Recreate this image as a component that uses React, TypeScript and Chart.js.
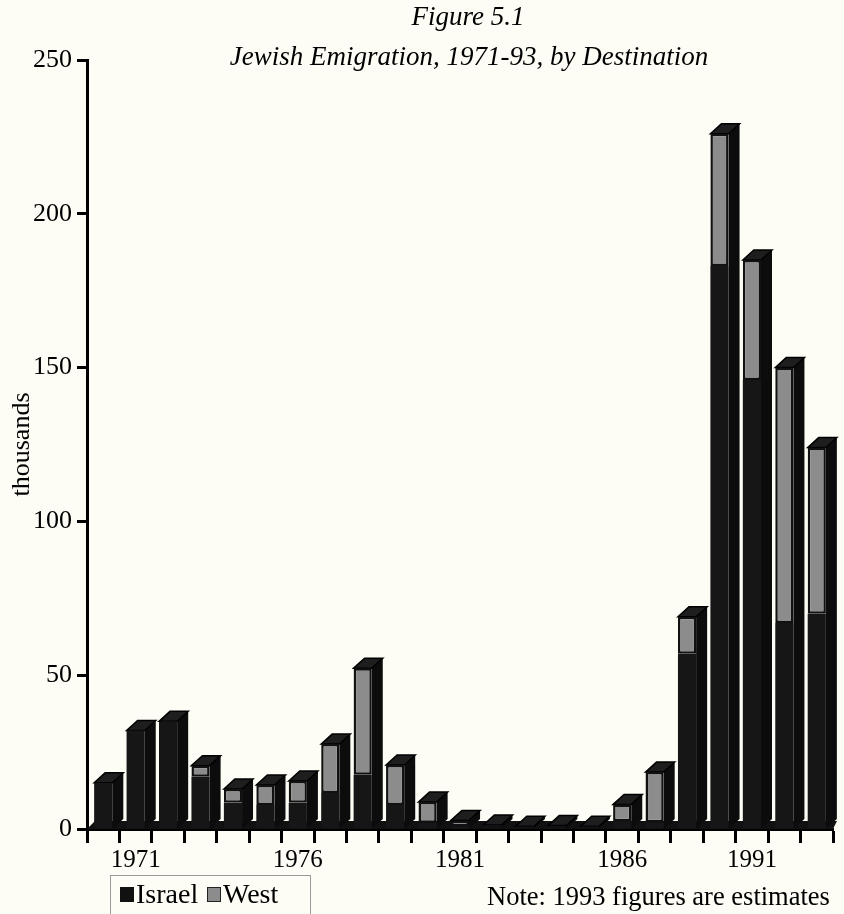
import React, { useEffect, useRef } from "react";
import { Chart, registerables } from "chart.js";

Chart.register(...registerables);

// Years shown (1971-93)
const years = [
  "1971", "1972", "1973", "1974", "1975", "1976", "1977", "1978", "1979", "1980",
  "1981", "1982", "1983", "1984", "1985", "1986", "1987", "1988", "1989", "1990",
  "1991", "1992", "1993",
];
// Tick labels as printed under the axis in the figure
const tickLabels = [
  "", "1971", "", "", "", "", "1976", "", "", "", "",
  "1981", "", "", "", "", "1986", "", "", "", "1991", "", "",
];
// thousands
const israel = [15, 32, 35, 17, 8.5, 7.8, 8.5, 11.7, 17.6, 7.8, 2, 0.8, 0.4, 0.3, 0.35, 0.2, 2.5, 2.2, 57, 183, 146, 67, 70];
const west = [0, 0, 0, 3.6, 4.5, 6.5, 7.1, 15.9, 34.7, 13, 6.8, 2, 0.9, 0.6, 0.75, 0.7, 5.5, 16.3, 12, 43, 39, 83, 54];
const yTicks = [0, 50, 100, 150, 200, 250];

const titleLines = ["Figure 5.1", "Jewish Emigration, 1971-93, by Destination"];
const noteText = "Note: 1993 figures are estimates";

const SERIF = "'Liberation Serif', 'Times New Roman', serif";
const BG = "#fdfdf6";
const DX = 11;
const DY = 10;

const bgPlugin = {
  id: "bg",
  beforeDraw(chart: any) {
    const { ctx, width, height } = chart;
    ctx.save();
    ctx.fillStyle = BG;
    ctx.fillRect(0, 0, width, height);
    ctx.restore();
  },
};

const depthPlugin = {
  id: "depth3d",
  beforeDatasetsDraw(chart: any) {
    const { ctx, chartArea } = chart;
    const m0 = chart.getDatasetMeta(0);
    const m1 = chart.getDatasetMeta(1);
    const yb = chart.scales.y.getPixelForValue(0);
    ctx.save();
    // floor
    ctx.fillStyle = "#111";
    ctx.beginPath();
    ctx.moveTo(chartArea.left, yb);
    ctx.lineTo(chartArea.left + DX - 3, yb - DY + 2);
    ctx.lineTo(chartArea.right + 4, yb - DY + 2);
    ctx.lineTo(chartArea.right, yb);
    ctx.closePath();
    ctx.fill();
    for (let i = 0; i < m0.data.length; i++) {
      const e0 = m0.data[i];
      const e1 = m1.data[i];
      const w = e0.width;
      const left = e0.x - w / 2;
      const right = e0.x + w / 2;
      const top = Math.min(e0.y, e1.y);
      // side face
      ctx.fillStyle = "#0c0c0c";
      ctx.beginPath();
      ctx.moveTo(right, top);
      ctx.lineTo(right + DX, top - DY);
      ctx.lineTo(right + DX, yb - DY);
      ctx.lineTo(right, yb);
      ctx.closePath();
      ctx.fill();
      // top face
      ctx.fillStyle = "#1e1e1e";
      ctx.strokeStyle = "#000";
      ctx.lineWidth = 1.5;
      ctx.beginPath();
      ctx.moveTo(left, top);
      ctx.lineTo(left + DX, top - DY);
      ctx.lineTo(right + DX, top - DY);
      ctx.lineTo(right, top);
      ctx.closePath();
      ctx.fill();
      ctx.stroke();
    }
    ctx.restore();
  },
};

const textPlugin = {
  id: "texts",
  afterDraw(chart: any) {
    const { ctx } = chart;
    ctx.save();
    ctx.fillStyle = "#000";
    // Title
    ctx.font = `italic 27px ${SERIF}`;
    ctx.textAlign = "center";
    ctx.textBaseline = "middle";
    ctx.fillText(titleLines[0], 468, 18);
    ctx.fillText(titleLines[1], 469, 58);
    // Legend
    ctx.strokeStyle = "#9a9a9a";
    ctx.lineWidth = 1;
    ctx.strokeRect(110.5, 875.5, 200, 45);
    ctx.font = `28px ${SERIF}`;
    ctx.textAlign = "left";
    ctx.textBaseline = "middle";
    ctx.fillStyle = "#111";
    ctx.fillRect(120, 887, 14, 15);
    ctx.fillStyle = "#000";
    ctx.fillText(chart.data.datasets[0].label, 136, 896);
    ctx.fillStyle = "#8c8c8c";
    ctx.fillRect(207, 887, 14, 15);
    ctx.strokeStyle = "#222";
    ctx.strokeRect(207.5, 887.5, 13, 14);
    ctx.fillStyle = "#000";
    ctx.fillText(chart.data.datasets[1].label, 223, 896);
    // Note
    ctx.font = `26.5px ${SERIF}`;
    ctx.fillText(noteText, 487, 898);
    ctx.restore();
  },
};

export default function App() {
  const ref = useRef<HTMLCanvasElement>(null);
  useEffect(() => {
    if (!ref.current) return;
    const chart = new Chart(ref.current, {
      type: "bar",
      data: {
        labels: years,
        datasets: [
          {
            label: "Israel",
            data: israel,
            backgroundColor: "#161616",
            borderColor: "#000",
            borderWidth: 0,
            barPercentage: 0.56,
            categoryPercentage: 1,
          },
          {
            label: "West",
            data: west,
            backgroundColor: "#8c8c8c",
            borderColor: "#111",
            borderWidth: 2.5,
            borderSkipped: false,
            barPercentage: 0.56,
            categoryPercentage: 1,
          },
        ],
      },
      options: {
        responsive: false,
        animation: false,
        devicePixelRatio: 1,
        layout: { padding: { top: 60, right: 11, bottom: 0, left: 0 } },
        plugins: {
          legend: { display: false },
          title: { display: false },
          tooltip: { enabled: false },
        },
        scales: {
          x: {
            stacked: true,
            offset: true,
            grid: {
              display: true,
              offset: true,
              drawOnChartArea: false,
              drawTicks: true,
              tickLength: 14,
              tickWidth: 3,
              tickColor: "#000",
            },
            border: { display: true, color: "#000", width: 3 },
            ticks: {
              autoSkip: false,
              maxRotation: 0,
              minRotation: 0,
              padding: 2,
              color: "#000",
              font: { family: SERIF, size: 25 },
              callback: (_v: any, i: number) => tickLabels[i],
            },
            afterFit: (s: any) => {
              s.height = 85;
            },
          },
          y: {
            stacked: true,
            min: 0,
            max: 250,
            afterBuildTicks: (s: any) => {
              s.ticks = yTicks.map((v) => ({ value: v }));
            },
            grid: {
              drawOnChartArea: false,
              drawTicks: true,
              tickLength: 10,
              tickWidth: 3,
              tickColor: "#000",
            },
            border: { display: true, color: "#000", width: 3 },
            ticks: {
              padding: 5,
              color: "#000",
              font: { family: SERIF, size: 26 },
            },
            title: {
              display: true,
              text: "thousands",
              color: "#000",
              font: { family: SERIF, size: 26 },
              padding: { top: 7, bottom: 0 },
            },
            afterFit: (s: any) => {
              s.width = 87;
            },
          },
        },
      },
      plugins: [bgPlugin, depthPlugin, textPlugin],
    });
    return () => chart.destroy();
  }, []);
  return (
    <div style={{ position: "absolute", left: 0, top: 0, width: 844, height: 914, background: BG }}>
      <canvas ref={ref} width={844} height={914} style={{ display: "block", width: 844, height: 914 }} />
    </div>
  );
}
